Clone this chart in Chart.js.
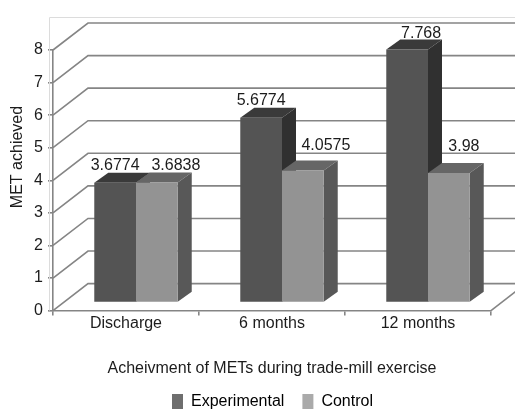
<!DOCTYPE html>
<html>
<head>
<meta charset="utf-8">
<title>METs chart</title>
<script src="https://cdn.jsdelivr.net/npm/chart.js@4/dist/chart.umd.min.js"></script>
<style>
    html, body { margin: 0; padding: 0; background: #fff; }
    #wrap { width: 515px; height: 409px; overflow: hidden; }
</style>
</head>
<body>
<div id="wrap"><canvas id="chart" width="515" height="409"></canvas></div>
<script>
const categories = ['Discharge', '6 months', '12 months'];
const experimental = [3.6774, 5.6774, 7.768];
const control = [3.6838, 4.0575, 3.98];
const yTicks = [0, 1, 2, 3, 4, 5, 6, 7, 8];

const FONT = '"Liberation Sans", Arial, sans-serif';
const FONT_SIZE = 16;
const TEXT_COLOR = '#1c1c1c';
const GRID_COLOR = '#858585';

// depth of the fake 3D box
const WALL_DX = 35, WALL_DY = 27;
const BAR_DX = 10, BAR_DY = 8;
const FACE_DX = 14, FACE_DY = 10;

const faces = [
    { front: '#545454', top: '#3a3a3a', side: '#303030', swatch: '#6e6e6e' },
    { front: '#939393', top: '#666666', side: '#585858', swatch: '#aaaaaa' }
];

// label nudges, [series][category] -> [dx, dy] from back edge of bar top
const labelNudge = [
    [[0, -7], [0, -7], [14, -6]],
    [[19, -7], [23, -15], [15, -16]]
];

const wallPlugin = {
    id: 'wall',
    afterLayout(chart) {
        // legend hangs off the bottom edge and right of centre in the original
        const legend = chart.legend;
        legend.left += 27;
        legend.right += 27;
        legend.top = 376;
    },
    beforeDatasetsDraw(chart) {
        const { ctx, chartArea, scales } = chart;
        const { left, right } = chartArea;
        const y = scales.y;

        // plot frame
        ctx.save();
        ctx.strokeStyle = '#dcdcdc';
        ctx.lineWidth = 1;
        ctx.beginPath();
        ctx.moveTo(49.5, y.getPixelForValue(0));
        ctx.lineTo(49.5, 17.5);
        ctx.lineTo(515, 17.5);
        ctx.stroke();

        // floor + back wall lines
        ctx.strokeStyle = GRID_COLOR;
        ctx.lineWidth = 1.6;
        yTicks.forEach(t => {
            const py = y.getPixelForValue(t);
            ctx.beginPath();
            ctx.moveTo(left, py);
            ctx.lineTo(left + WALL_DX, py - WALL_DY);
            ctx.lineTo(right + WALL_DX, py - WALL_DY);
            ctx.stroke();
        });
        const py0 = y.getPixelForValue(0);
        ctx.beginPath();
        ctx.moveTo(right, py0);
        ctx.lineTo(right + WALL_DX, py0 - WALL_DY);
        ctx.stroke();
        ctx.restore();

        // bars sit a bit inside the floor
        ctx.save();
        ctx.translate(BAR_DX, -BAR_DY);
        faces.forEach((face, i) => {
            chart.getDatasetMeta(i).data.forEach(bar => {
                const l = bar.x - bar.width / 2;
                const r = bar.x + bar.width / 2;
                ctx.fillStyle = face.top;
                ctx.beginPath();
                ctx.moveTo(l, bar.y);
                ctx.lineTo(r, bar.y);
                ctx.lineTo(r + FACE_DX, bar.y - FACE_DY);
                ctx.lineTo(l + FACE_DX, bar.y - FACE_DY);
                ctx.closePath();
                ctx.fill();
                ctx.fillStyle = face.side;
                ctx.beginPath();
                ctx.moveTo(r, bar.y);
                ctx.lineTo(r + FACE_DX, bar.y - FACE_DY);
                ctx.lineTo(r + FACE_DX, bar.base - FACE_DY);
                ctx.lineTo(r, bar.base);
                ctx.closePath();
                ctx.fill();
            });
        });
    },
    afterDatasetsDraw(chart) {
        const { ctx } = chart;
        ctx.restore();

        // value labels
        ctx.save();
        ctx.font = FONT_SIZE + 'px ' + FONT;
        ctx.fillStyle = TEXT_COLOR;
        ctx.textAlign = 'center';
        ctx.textBaseline = 'middle';
        chart.data.datasets.forEach((ds, i) => {
            chart.getDatasetMeta(i).data.forEach((bar, j) => {
                const n = labelNudge[i][j];
                ctx.fillText(String(ds.data[j]), bar.x + BAR_DX + n[0], bar.y - BAR_DY - FACE_DY + n[1]);
            });
        });

        // y axis title sits above the middle in the original
        ctx.translate(18, 157);
        ctx.rotate(-Math.PI / 2);
        ctx.fillText('MET achieved', 0, 0);
        ctx.restore();
    }
};

new Chart(document.getElementById('chart'), {
    type: 'bar',
    data: {
        labels: categories,
        datasets: [
            { label: 'Experimental', data: experimental, backgroundColor: faces[0].front },
            { label: 'Control', data: control, backgroundColor: faces[1].front }
        ]
    },
    options: {
        responsive: false,
        animation: false,
        clip: false,
        categoryPercentage: 0.5716,
        barPercentage: 1,
        layout: { padding: { top: 50, right: 24, left: 0, bottom: -13 } },
        plugins: {
            tooltip: { enabled: false },
            legend: {
                position: 'bottom',
                labels: {
                    boxWidth: 11,
                    boxHeight: 16,
                    padding: 18,
                    color: TEXT_COLOR,
                    font: { family: FONT, size: FONT_SIZE },
                    generateLabels(chart) {
                        return chart.data.datasets.map((ds, i) => ({
                            text: ds.label,
                            fillStyle: faces[i].swatch,
                            strokeStyle: faces[i].swatch,
                            lineWidth: 0,
                            datasetIndex: i
                        }));
                    }
                }
            }
        },
        scales: {
            x: {
                grid: { offset: true, drawOnChartArea: false, drawTicks: true, tickLength: 5, color: GRID_COLOR, lineWidth: 1.6 },
                border: { color: GRID_COLOR, width: 1.6 },
                ticks: { color: TEXT_COLOR, font: { family: FONT, size: FONT_SIZE }, padding: -2, maxRotation: 0 },
                title: {
                    display: true,
                    text: 'Acheivment of METs during trade-mill exercise',
                    color: TEXT_COLOR,
                    font: { family: FONT, size: FONT_SIZE },
                    padding: { top: 28, bottom: 0 }
                }
            },
            y: {
                min: 0,
                max: 8,
                afterFit(scale) { scale.width = 53; },
                afterBuildTicks(scale) { scale.ticks = yTicks.map(v => ({ value: v })); },
                grid: { drawOnChartArea: false, drawTicks: true, tickLength: 5, color: GRID_COLOR, lineWidth: 1.6 },
                border: { color: GRID_COLOR, width: 1.6 },
                ticks: { color: TEXT_COLOR, font: { family: FONT, size: FONT_SIZE }, padding: 5 }
            }
        }
    },
    plugins: [wallPlugin]
});
</script>
</body>
</html>
